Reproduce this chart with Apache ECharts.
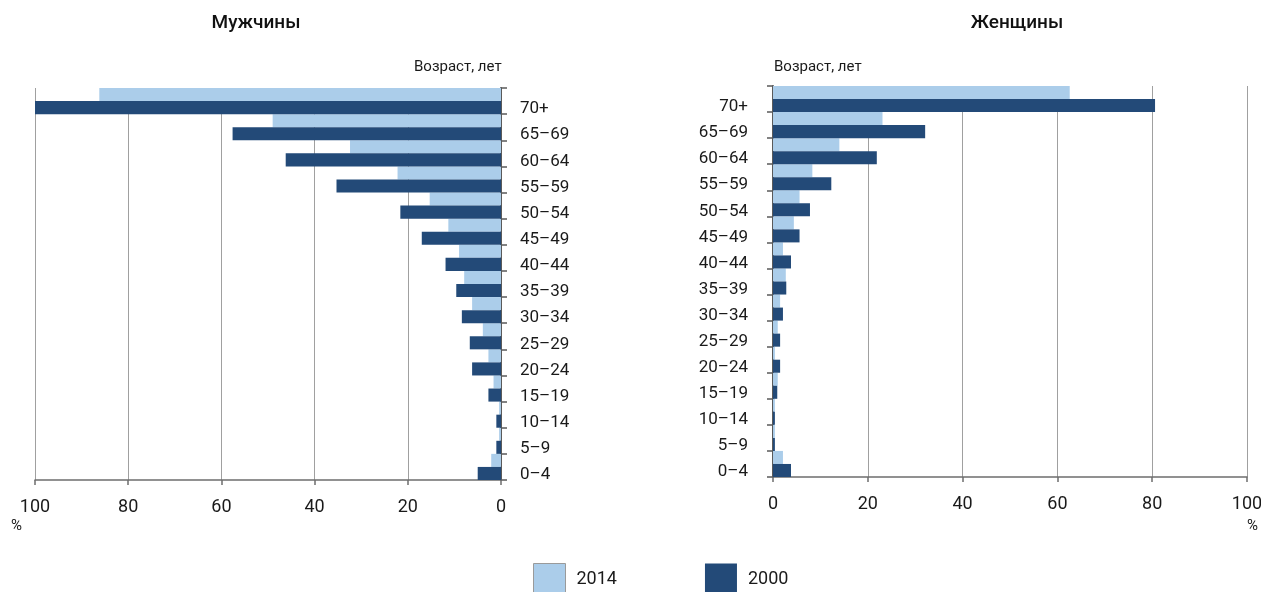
<!DOCTYPE html>
<html>
<head>
<meta charset="utf-8">
<script src="https://cdn.jsdelivr.net/npm/echarts@6/dist/echarts.min.js"></script>
<style>
html,body{margin:0;padding:0;background:#fff;}
#chart{width:1261px;height:592px;}
</style>
</head>
<body>
<div id="chart"></div>
<script>
const categories = ['0–4','5–9','10–14','15–19','20–24','25–29','30–34','35–39','40–44','45–49','50–54','55–59','60–64','65–69','70+'];
const men2014 = [2.1, 0.4, 0.4, 1.6, 2.7, 3.9, 6.2, 7.9, 9.0, 11.3, 15.3, 22.2, 32.4, 49.0, 86.2];
const men2000 = [5.0, 1.0, 1.0, 2.7, 6.2, 6.7, 8.4, 9.6, 11.9, 17.0, 21.6, 35.3, 46.2, 57.6, 100];
const women2014 = [2.1, 0.4, 0.4, 1.0, 0.4, 1.0, 1.5, 2.7, 2.1, 4.4, 5.6, 8.3, 14.0, 23.1, 62.6];
const women2000 = [3.8, 0.4, 0.4, 0.9, 1.5, 1.5, 2.1, 2.8, 3.8, 5.6, 7.8, 12.3, 21.9, 32.1, 80.6];
const xTicks = [0, 20, 40, 60, 80, 100];
const seriesNames = ['2014', '2000'];
const titles = ['Мужчины', 'Женщины'];
const ageLabel = 'Возраст, лет';

const LIGHT = '#abcdea';
const DARK = '#234a78';
const FONT = 'Roboto, "Noto Sans", sans-serif';

const chart = echarts.init(document.getElementById('chart'), null, {renderer: 'canvas'});

function xAxisCfg(gridIndex, inverse) {
  return {
    type: 'value', gridIndex: gridIndex, inverse: inverse,
    min: xTicks[0], max: xTicks[xTicks.length - 1], interval: xTicks[1] - xTicks[0],
    axisLine: {show: true, lineStyle: {color: '#6e6e6e', width: 1.5}},
    axisTick: {show: true, length: 5, lineStyle: {color: '#6e6e6e', width: 1.5}},
    axisLabel: {color: '#1a1a1a', fontSize: 18, fontFamily: FONT, margin: 18},
    splitLine: {show: true, lineStyle: {color: '#a0a0a0', width: 1}}
  };
}
function yAxisCfg(gridIndex, position, margin, align) {
  return {
    type: 'category', gridIndex: gridIndex, position: position, data: categories,
    axisLine: {show: true, onZero: false, lineStyle: {color: '#5a5a5a', width: 2}},
    axisTick: {show: true, length: 6, lineStyle: {color: '#5a5a5a', width: 1.5}},
    axisLabel: {color: '#1a1a1a', fontSize: 17, fontFamily: FONT, margin: margin, align: align,
                verticalAlign: 'top', lineHeight: 16},
    splitLine: {show: false}
  };
}
function barSeries(name, data, idx, color) {
  return {
    name: name, type: 'bar', xAxisIndex: idx, yAxisIndex: idx, data: data,
    barGap: '0%', barCategoryGap: '0%',
    itemStyle: {color: color},
    emphasis: {disabled: true},
    silent: true
  };
}

const option = {
  animation: false,
  backgroundColor: '#fff',
  textStyle: {fontFamily: FONT},
  title: [
    {text: titles[0], left: 256, top: 14, textAlign: 'center', padding: 0,
     textStyle: {fontSize: 19, fontWeight: 500, color: '#111', fontFamily: FONT}},
    {text: titles[1], left: 1017, top: 14, textAlign: 'center', padding: 0,
     textStyle: {fontSize: 19, fontWeight: 500, color: '#111', fontFamily: FONT}}
  ],
  legend: {
    top: 563, left: 533, itemWidth: 32, itemHeight: 31, itemGap: 88, padding: 0,
    selectedMode: false,
    textStyle: {fontSize: 18, color: '#1a1a1a', fontFamily: FONT, padding: [3, 0, 0, 6]},
    data: [
      {name: seriesNames[0], icon: 'rect', itemStyle: {color: LIGHT, borderColor: '#9a9a9a', borderWidth: 1}},
      {name: seriesNames[1], icon: 'rect', itemStyle: {color: DARK}}
    ]
  },
  grid: [
    {left: 35, width: 466, top: 88, height: 392, outerBoundsMode: 'none', containLabel: false},
    {left: 773, width: 474, top: 86, height: 391, outerBoundsMode: 'none', containLabel: false}
  ],
  xAxis: [xAxisCfg(0, true), xAxisCfg(1, false)],
  yAxis: [yAxisCfg(0, 'right', 19, 'left'), yAxisCfg(1, 'left', 25, 'right')],
  series: [
    barSeries(seriesNames[0], men2014, 0, LIGHT),
    barSeries(seriesNames[1], men2000, 0, DARK),
    barSeries(seriesNames[0], women2014, 1, LIGHT),
    barSeries(seriesNames[1], women2000, 1, DARK)
  ],
  graphic: [
    {type: 'text', left: 414, top: 60, style: {text: ageLabel, fill: '#1a1a1a', font: '15px ' + FONT}},
    {type: 'text', left: 774, top: 60, style: {text: ageLabel, fill: '#1a1a1a', font: '15px ' + FONT}},
    {type: 'text', left: 11, top: 519, style: {text: '%', fill: '#1a1a1a', font: '15px ' + FONT}},
    {type: 'text', left: 1247, top: 519, style: {text: '%', fill: '#1a1a1a', font: '15px ' + FONT}}
  ]
};
chart.setOption(option);
</script>
</body>
</html>
